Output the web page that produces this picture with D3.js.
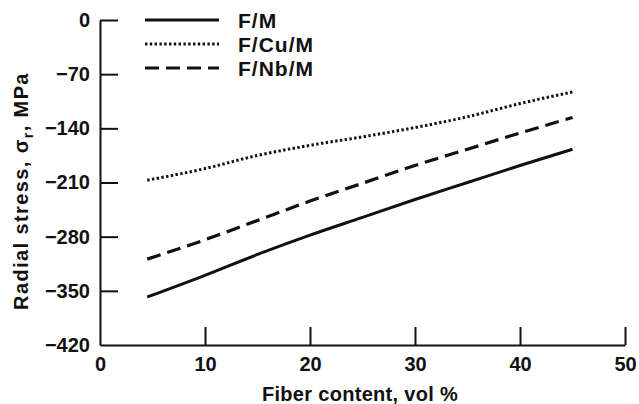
<!DOCTYPE html>
<html>
<head>
<meta charset="utf-8">
<script src="https://cdn.jsdelivr.net/npm/d3@7"></script>
<style>
  html, body { margin: 0; padding: 0; background: #fff; }
  svg text { font-family: "Liberation Sans", Arial, sans-serif; font-weight: bold; fill: #111; }
</style>
</head>
<body>
<div id="chart"></div>
<script>
// ---- data ----
const fiberContent = [4.5, 10, 15, 20, 25, 30, 35, 40, 45];
const seriesNames = ["F/M", "F/Cu/M", "F/Nb/M"];
const stressFM   = [-358, -330, -303, -278, -255, -232, -210, -188, -167];
const stressFCuM = [-207, -192, -175, -162, -151, -139, -125, -108, -93];
const stressFNbM = [-309, -284, -259, -234, -211, -188, -167, -146, -126];
const xTicks = [0, 10, 20, 30, 40, 50];
const yTicks = [0, -70, -140, -210, -280, -350, -420];

// ---- layout ----
const W = 639, H = 404;
const svg = d3.select("#chart").append("svg").attr("width", W).attr("height", H);

const x = d3.scaleLinear().domain([0, 50]).range([100, 625]);
const y = d3.scaleLinear().domain([-420, 0]).range([345, 20]);

const fs = 20;

// axes
const gx = svg.append("g").attr("transform", `translate(0,${y(-420)})`)
  .call(d3.axisBottom(x).tickValues(xTicks).tickSizeInner(-18).tickSizeOuter(0).tickPadding(12).tickFormat(d3.format("d")));
const gy = svg.append("g").attr("transform", `translate(${x(0)},0)`)
  .call(d3.axisLeft(y).tickValues(yTicks).tickSizeInner(-18).tickSizeOuter(0).tickPadding(10).tickFormat(d3.format("d")));

[gx, gy].forEach(g => {
  g.select(".domain").attr("stroke", "#111").attr("stroke-width", 2);
  g.selectAll(".tick line").attr("stroke", "#111").attr("stroke-width", 2);
  g.selectAll(".tick text").attr("font-size", fs).attr("fill", "#111")
    .style("font-family", '"Liberation Sans", Arial, sans-serif').style("font-weight", "bold");
});
gx.selectAll(".tick").filter(d => d === 0).select("line").remove();
gy.selectAll(".tick").filter(d => d === -420).select("line").remove();

// lines
const styles = [
  { dash: null, width: 3 },
  { dash: "2.4,2.4", width: 3 },
  { dash: "14,7", width: 3.2 }
];
const seriesValues = [stressFM, stressFCuM, stressFNbM];
const line = d3.line().x(d => x(d[0])).y(d => y(d[1])).curve(d3.curveMonotoneX);

seriesValues.forEach((vals, i) => {
  const pts = fiberContent.map((f, j) => [f, vals[j]]);
  svg.append("path").datum(pts)
    .attr("d", line)
    .attr("fill", "none")
    .attr("stroke", "#111")
    .attr("stroke-width", styles[i].width)
    .attr("stroke-dasharray", styles[i].dash);
});

// legend
const legend = svg.append("g");
seriesNames.forEach((name, i) => {
  const ly = 20 + i * 24;
  legend.append("line")
    .attr("x1", 145).attr("x2", 219).attr("y1", ly).attr("y2", ly)
    .attr("stroke", "#111").attr("stroke-width", styles[i].width)
    .attr("stroke-dasharray", styles[i].dash);
  legend.append("text").attr("x", 238).attr("y", ly).attr("dy", "0.36em")
    .attr("font-size", 21).attr("letter-spacing", 1).text(name);
});

// axis titles
svg.append("text").attr("x", 360).attr("y", 401).attr("text-anchor", "middle")
  .attr("font-size", 20).attr("letter-spacing", 0.3).text("Fiber content, vol %");

const yl = svg.append("text")
  .attr("transform", "translate(28,191) rotate(-90)")
  .attr("text-anchor", "middle").attr("font-size", 20).attr("letter-spacing", 1.4);
yl.append("tspan").text("Radial stress, σ");
yl.append("tspan").attr("font-size", 14).attr("dy", 5).text("r");
yl.append("tspan").attr("dy", -5).text(", MPa");
</script>
</body>
</html>
